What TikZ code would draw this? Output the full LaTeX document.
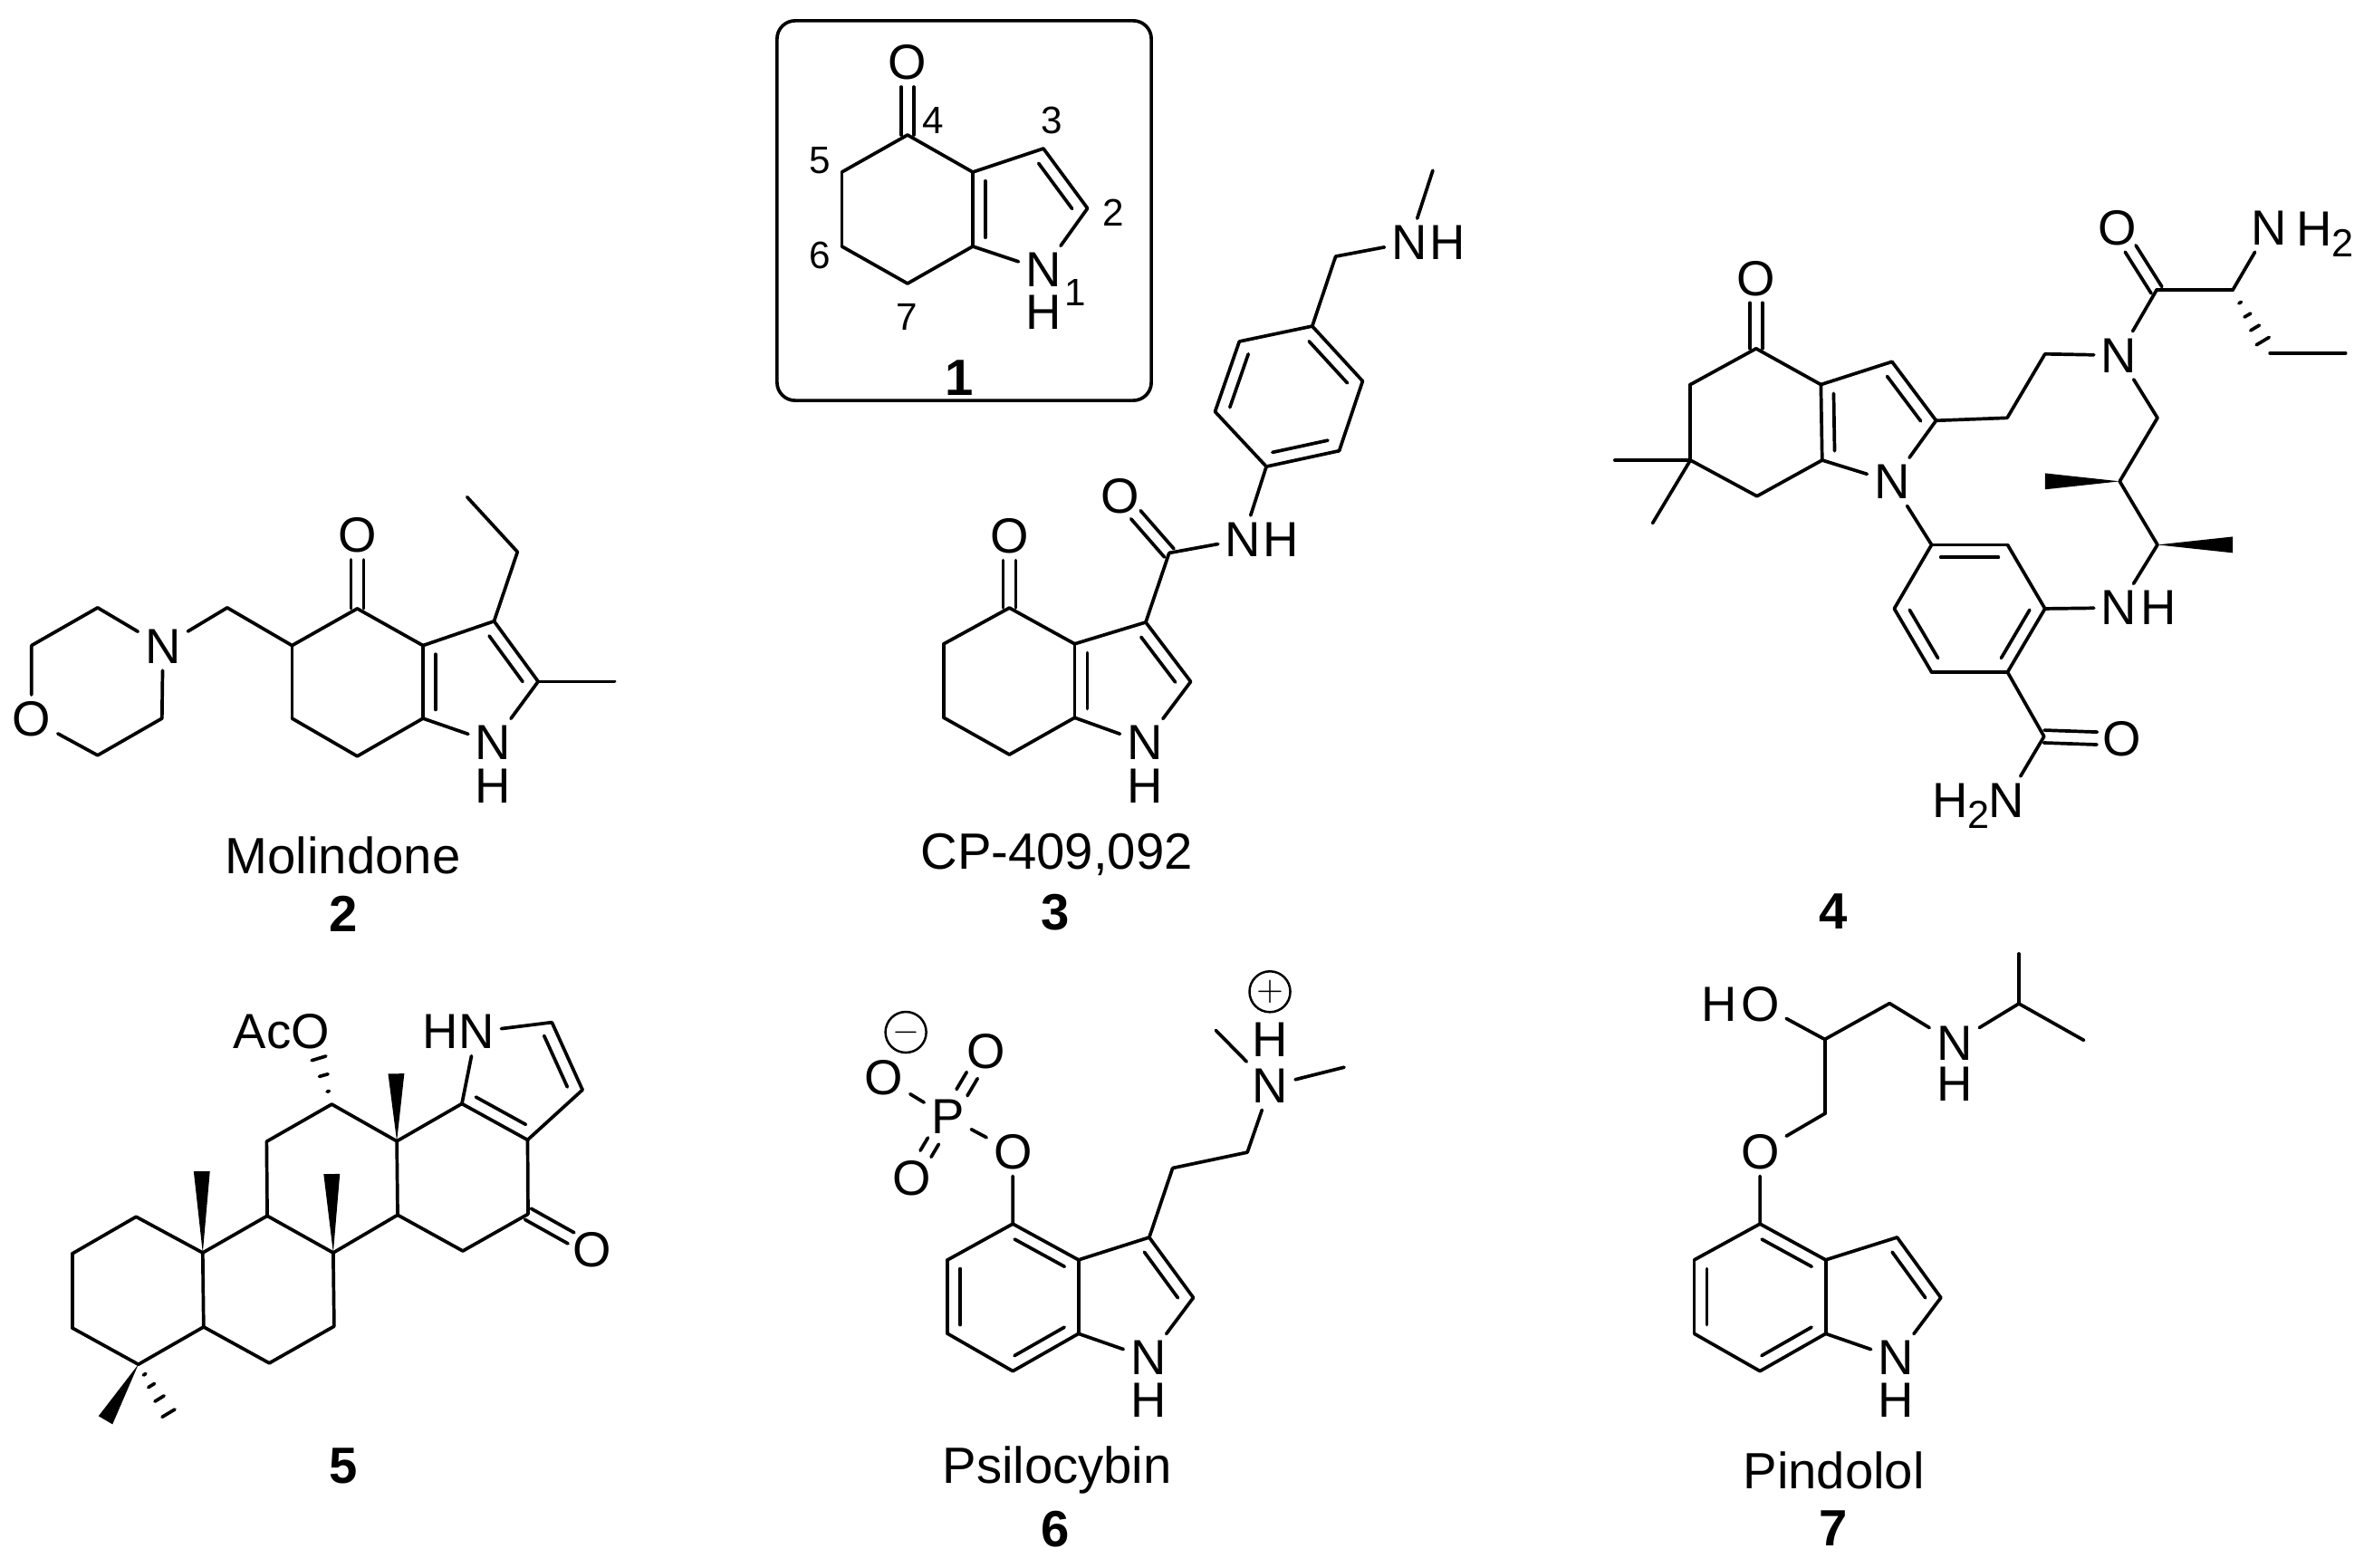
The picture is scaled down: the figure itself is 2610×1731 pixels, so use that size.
\documentclass[tikz,border=0pt]{standalone}
\usepackage{fontspec}
\setmainfont{Liberation Sans}
\usetikzlibrary{calc}
\newcommand{\innerbond}[3][.12]{\draw ($(#2)!#1!(#3)!.14cm!90:(#3)$) -- ($(#3)!#1!(#2)!.14cm!-90:(#2)$);}
\newcommand{\twinbond}[3][]{\draw[shorten >=.27cm,#1] ($(#2)!.07cm!90:(#3)$) -- ($(#3)!.07cm!-90:(#2)$);
\draw[shorten >=.27cm,#1] ($(#2)!.07cm!-90:(#3)$) -- ($(#3)!.07cm!90:(#2)$);}
\newcommand{\wedgebond}[2]{\fill (#1) -- ($(#2)!.09cm!90:(#1)$) -- ($(#2)!.09cm!-90:(#1)$) -- cycle;}
\newcommand{\hashbond}[3]{\foreach \t/\w in {#3} {\coordinate (hs) at ($(#1)!\t!(#2)$);
\draw ($(hs)!\w cm!90:(#2)$) -- ($(hs)!\w cm!-90:(#2)$);}}
\newcommand{\subtwo}{\raisebox{-3.5pt}{\fontsize{12.3}{13}\selectfont 2}}
\begin{document}
\begin{tikzpicture}[x=.01cm,y=-.01cm,line width=.037cm,line cap=round,line join=round,
atom node/.style={inner sep=.06cm,font=\fontsize{15.5}{17}\selectfont},
locant node/.style={inner sep=0pt,font=\fontsize{12}{14}\selectfont},
name node/.style={inner sep=0pt,font=\fontsize{16}{18}\selectfont},
num node/.style={inner sep=0pt,font=\fontsize{16}{18}\selectfont\bfseries},
charge node/.style={draw,circle,minimum size=.45cm,inner sep=0pt,line width=.025cm,font=\fontsize{11}{13}\selectfont}]
\useasboundingbox (0,0) rectangle (2610,1731);
% 1
\node[draw,rounded corners=.2cm,minimum width=4.13cm,minimum height=4.19cm,inner sep=0pt] (box1) at (1064.5,232.5) {};
\begin{scope}[shift={(5.4,0)},xscale=.9936]
\node[atom node] (m1o) at (1003,69) {O};
\node[atom node] (m1n) at (1154,298) {N};
\node[atom node] (m1h) at (1154,345) {H};
\coordinate (m1c4) at (1003,149);
\coordinate (m1c5) at (930,190);
\coordinate (m1c6) at (930,272);
\coordinate (m1c7) at (1003,313);
\coordinate (m1c7a) at (1075.5,272);
\coordinate (m1c3a) at (1075.5,190);
\coordinate (m1c3) at (1154,164);
\coordinate (m1c2) at (1203,230);
\node[locant node] (m1l4) at (1031,133) {4};
\node[locant node] (m1l3) at (1163,133) {3};
\node[locant node] (m1l5) at (906,177) {5};
\node[locant node] (m1l2) at (1232,235) {2};
\node[locant node] (m1l6) at (906,282) {6};
\node[locant node] (m1l7) at (1002,350) {7};
\node[locant node] (m1l1) at (1189,323) {1};
\node[num node] (m1num) at (1061,417) {1};
\twinbond{m1c4}{m1o}
\draw (m1c4) -- (m1c5);
\draw (m1c5) -- (m1c6);
\draw (m1c6) -- (m1c7);
\draw (m1c7) -- (m1c7a);
\draw (m1c7a) -- (m1c3a);
\draw (m1c3a) -- (m1c4);
\draw (m1c3a) -- (m1c3);
\draw (m1c3) -- (m1c2);
\draw (m1c2) -- (m1n);
\draw (m1n) -- (m1c7a);
\innerbond{m1c3a}{m1c7a}
\innerbond{m1c2}{m1c3}
\end{scope}
% 2
\begin{scope}[shift={(0,3.2)},scale=.9936]
\node[atom node] (m2o) at (397,591.5) {O};
\node[atom node] (m2n) at (548,822) {N};
\node[atom node] (m2h) at (548,870) {H};
\node[atom node] (m2mn) at (181,715) {N};
\node[atom node] (m2mo) at (35,796) {O};
\coordinate (m2c4) at (397,673);
\coordinate (m2c3a) at (470,714);
\coordinate (m2c7a) at (470,795);
\coordinate (m2c7) at (397,837);
\coordinate (m2c6) at (324.5,795);
\coordinate (m2c5) at (324.5,714);
\coordinate (m2ch) at (252.5,672);
\coordinate (m2m1) at (108.5,672);
\coordinate (m2m2) at (35,714);
\coordinate (m2m3) at (108.5,836);
\coordinate (m2m4) at (180,795);
\coordinate (m2c3) at (549,687);
\coordinate (m2c2) at (598,754);
\coordinate (m2me) at (683,754);
\coordinate (m2et1) at (575,610);
\coordinate (m2et2) at (519,549);
\node[name node] (m2name) at (381,947) {Molindone};
\node[num node] (m2num) at (382,1012) {2};
\twinbond{m2c4}{m2o}
\draw (m2c4) -- (m2c3a);
\draw (m2c3a) -- (m2c7a);
\draw (m2c7a) -- (m2c7);
\draw (m2c7) -- (m2c6);
\draw (m2c6) -- (m2c5);
\draw (m2c5) -- (m2c4);
\draw (m2c5) -- (m2ch);
\draw (m2ch) -- (m2mn);
\draw (m2mn) -- (m2m1);
\draw (m2m1) -- (m2m2);
\draw (m2m2) -- (m2mo);
\draw (m2mo) -- (m2m3);
\draw (m2m3) -- (m2m4);
\draw (m2m4) -- (m2mn);
\draw (m2c3a) -- (m2c3);
\draw (m2c3) -- (m2c2);
\draw (m2c2) -- (m2n);
\draw (m2n) -- (m2c7a);
\draw (m2c2) -- (m2me);
\draw (m2c3) -- (m2et1);
\draw (m2et1) -- (m2et2);
\innerbond{m2c3a}{m2c7a}
\innerbond{m2c2}{m2c3}
\end{scope}
% 3
\begin{scope}[shift={(6.1,1.4)},scale=.9936]
\node[atom node] (m3o) at (1115.5,594) {O};
\node[atom node] (m3n) at (1266,824) {N};
\node[atom node] (m3h) at (1266,872) {H};
\node[atom node] (m3ao) at (1238,550) {O};
\node[atom node] (m3an) at (1375,598) {N};
\node[atom node] (m3ah) at (1417,598) {H};
\node[atom node] (m3bn) at (1560,268) {N};
\node[atom node] (m3bh) at (1602,268) {H};
\coordinate (m3c4) at (1115.5,674);
\coordinate (m3c5) at (1042.6,714);
\coordinate (m3c6) at (1042.6,796);
\coordinate (m3c7) at (1115.5,837);
\coordinate (m3c7a) at (1188,796);
\coordinate (m3c3a) at (1188,714);
\coordinate (m3c3) at (1267,690);
\coordinate (m3c2) at (1317,756);
\coordinate (m3ac) at (1293,613);
\coordinate (m3r1) at (1401,517);
\coordinate (m3r2) at (1344,456);
\coordinate (m3r3) at (1371,378);
\coordinate (m3r4) at (1452,361);
\coordinate (m3r5) at (1508,422);
\coordinate (m3r6) at (1482,499.5);
\coordinate (m3ch) at (1478,283.5);
\coordinate (m3me) at (1586,188);
\node[name node] (m3name) at (1168,948) {CP-409,092};
\node[num node] (m3num) at (1166,1012) {3};
\twinbond{m3c4}{m3o}
\draw (m3c4) -- (m3c5);
\draw (m3c5) -- (m3c6);
\draw (m3c6) -- (m3c7);
\draw (m3c7) -- (m3c7a);
\draw (m3c7a) -- (m3c3a);
\draw (m3c3a) -- (m3c4);
\draw (m3c3a) -- (m3c3);
\draw (m3c3) -- (m3c2);
\draw (m3c2) -- (m3n);
\draw (m3n) -- (m3c7a);
\draw (m3c3) -- (m3ac);
\twinbond{m3ac}{m3ao}
\draw (m3ac) -- (m3an);
\draw (m3an) -- (m3r1);
\draw (m3r1) -- (m3r2);
\draw (m3r2) -- (m3r3);
\draw (m3r3) -- (m3r4);
\draw (m3r4) -- (m3r5);
\draw (m3r5) -- (m3r6);
\draw (m3r6) -- (m3r1);
\draw (m3r4) -- (m3ch);
\draw (m3ch) -- (m3bn);
\draw (m3bn) -- (m3me);
\innerbond{m3c3a}{m3c7a}
\innerbond{m3c2}{m3c3}
\innerbond{m3r3}{m3r2}
\innerbond{m3r1}{m3r6}
\innerbond{m3r5}{m3r4}
\end{scope}
% 4
\begin{scope}[shift={(11.3,1.3)},scale=.9936]
\node[atom node] (m4o) at (1940,308) {O};
\node[atom node] (m4n) at (2091,534) {N};
\node[atom node] (m4ln) at (2343,393.5) {N};
\node[atom node] (m4ao) at (2341.5,252) {O};
\node[atom node] (m4an) at (2510,252) {N};
\node[atom node,inner sep=0pt,anchor=base west] (m4ah) at (2538.3,272) {H\subtwo};
\node[atom node] (m4bn) at (2343,674) {N};
\node[atom node] (m4bh) at (2387.5,674) {H};
\node[atom node] (m4co) at (2346,820) {O};
\node[atom node] (m4cn) at (2218,888) {N};
\node[atom node,inner sep=0pt,anchor=base west] (m4ch) at (2134,907) {H\subtwo};
\coordinate (m4c4) at (1940,386);
\coordinate (m4c5) at (1867,426);
\coordinate (m4c6) at (1867,510);
\coordinate (m4c7) at (1941,550);
\coordinate (m4c7a) at (2013.4,510);
\coordinate (m4c3a) at (2012,426);
\coordinate (m4c3) at (2091,400.6);
\coordinate (m4c2) at (2140,466);
\coordinate (m4me1) at (1783,510);
\coordinate (m4me2) at (1825,580);
\coordinate (m4e1) at (2219,463);
\coordinate (m4e2) at (2261,392);
\coordinate (m4ac) at (2385,321);
\coordinate (m4ch1) at (2469.6,321);
\coordinate (m4et1) at (2511,391);
\coordinate (m4et2) at (2595,391);
\coordinate (m4l1) at (2386,463);
\coordinate (m4l2) at (2344,533.5);
\coordinate (m4l3) at (2261,533.5);
\coordinate (m4l4) at (2386,604);
\coordinate (m4l5) at (2469.6,604);
\coordinate (m4r1) at (2135,604);
\coordinate (m4r2) at (2219.4,604);
\coordinate (m4r3) at (2261,675);
\coordinate (m4r4) at (2219.4,745.5);
\coordinate (m4r5) at (2135,745.5);
\coordinate (m4r6) at (2093.5,675);
\coordinate (m4cc) at (2260,817);
\node[num node] (m4num) at (2026,1011) {4};
\twinbond{m4c4}{m4o}
\draw (m4c4) -- (m4c5);
\draw (m4c5) -- (m4c6);
\draw (m4c6) -- (m4c7);
\draw (m4c7) -- (m4c7a);
\draw (m4c7a) -- (m4c3a);
\draw (m4c3a) -- (m4c4);
\draw (m4c3a) -- (m4c3);
\draw (m4c3) -- (m4c2);
\draw (m4c2) -- (m4n);
\draw (m4n) -- (m4c7a);
\draw (m4c6) -- (m4me1);
\draw (m4c6) -- (m4me2);
\draw (m4c2) -- (m4e1);
\draw (m4e1) -- (m4e2);
\draw (m4e2) -- (m4ln);
\draw (m4ln) -- (m4ac);
\twinbond{m4ac}{m4ao}
\draw (m4ac) -- (m4ch1);
\draw (m4ch1) -- (m4an);
\hashbond{m4ch1}{m4et1}{.2/.015,.4/.04,.6/.057,.81/.082}
\draw (m4et1) -- (m4et2);
\draw (m4ln) -- (m4l1);
\draw (m4l1) -- (m4l2);
\draw (m4l2) -- (m4l4);
\wedgebond{m4l2}{m4l3}
\wedgebond{m4l4}{m4l5}
\draw (m4l4) -- (m4bn);
\draw (m4bn) -- (m4r3);
\draw (m4n) -- (m4r1);
\draw (m4r1) -- (m4r2);
\draw (m4r2) -- (m4r3);
\draw (m4r3) -- (m4r4);
\draw (m4r4) -- (m4r5);
\draw (m4r5) -- (m4r6);
\draw (m4r6) -- (m4r1);
\draw (m4r4) -- (m4cc);
\twinbond{m4cc}{m4co}
\draw (m4cc) -- (m4cn);
\innerbond{m4c3a}{m4c7a}
\innerbond{m4c2}{m4c3}
\innerbond{m4r2}{m4r1}
\innerbond{m4r6}{m4r5}
\innerbond{m4r4}{m4r3}
\end{scope}
% 5
\begin{scope}[shift={(.26,6.9)},scale=.9936]
\node[atom node] (m5o) at (345,1139.5) {O};
\node[atom node,inner sep=0pt,anchor=east] (m5ac) at (325,1139.5) {Ac};
\node[atom node] (m5n) at (529,1139.5) {N};
\node[atom node] (m5h) at (489,1139.5) {H};
\node[atom node] (m5ko) at (658,1382) {O};
\coordinate (m5a) at (151,1345);
\coordinate (m5b) at (80,1386);
\coordinate (m5c) at (80,1468.5);
\coordinate (m5d) at (153.5,1509);
\coordinate (m5e) at (226,1467.4);
\coordinate (m5f) at (225,1385);
\coordinate (m5g) at (296.7,1344);
\coordinate (m5i) at (370,1385);
\coordinate (m5j) at (371,1466.7);
\coordinate (m5k) at (299,1507.6);
\coordinate (m5l) at (296,1261.4);
\coordinate (m5m) at (368.4,1220);
\coordinate (m5p) at (440.7,1261);
\coordinate (m5q) at (441.6,1343);
\coordinate (m5r) at (514,1383);
\coordinate (m5s) at (586.5,1342);
\coordinate (m5t) at (586,1259.6);
\coordinate (m5u) at (513,1219.4);
\coordinate (m5v) at (647,1204);
\coordinate (m5w) at (613,1129);
\coordinate (m5w1) at (224,1294.5);
\coordinate (m5w2) at (368.4,1297.5);
\coordinate (m5w3) at (440,1186);
\coordinate (m5w4) at (117,1571);
\coordinate (m5h1) at (188,1565);
\coordinate (m5h2) at (354,1169);
\node[num node] (m5num) at (381,1622) {5};
\draw (m5a) -- (m5b);
\draw (m5b) -- (m5c);
\draw (m5c) -- (m5d);
\draw (m5d) -- (m5e);
\draw (m5e) -- (m5f);
\draw (m5f) -- (m5a);
\draw (m5f) -- (m5g);
\draw (m5g) -- (m5i);
\draw (m5i) -- (m5j);
\draw (m5j) -- (m5k);
\draw (m5k) -- (m5e);
\draw (m5g) -- (m5l);
\draw (m5l) -- (m5m);
\draw (m5m) -- (m5p);
\draw (m5p) -- (m5q);
\draw (m5q) -- (m5i);
\draw (m5q) -- (m5r);
\draw (m5r) -- (m5s);
\draw (m5s) -- (m5t);
\draw (m5t) -- (m5u);
\draw (m5u) -- (m5p);
\draw (m5u) -- (m5n);
\draw (m5n) -- (m5w);
\draw (m5w) -- (m5v);
\draw (m5v) -- (m5t);
\twinbond{m5s}{m5ko}
\wedgebond{m5f}{m5w1}
\wedgebond{m5i}{m5w2}
\wedgebond{m5p}{m5w3}
\wedgebond{m5d}{m5w4}
\hashbond{m5d}{m5h1}{.2/.015,.42/.04,.68/.06,.97/.082}
\hashbond{m5m}{m5h2}{.28/.012,.63/.05,1/.082}
\innerbond{m5u}{m5t}
\innerbond{m5v}{m5w}
\end{scope}
% 6
\begin{scope}[shift={(6,6.8)},scale=.9936]
\node[atom node] (m6n) at (1270,1502) {N};
\node[atom node] (m6h) at (1270,1549) {H};
\node[atom node] (m6an) at (1405.6,1199.6) {N};
\node[atom node] (m6ah) at (1405.6,1148) {H};
\node[atom node] (m6o) at (1119.4,1272.6) {O};
\node[atom node] (m6p) at (1047,1234) {P};
\node[atom node] (m6o1) at (1090,1161) {O};
\node[atom node] (m6o2) at (1006.7,1302) {O};
\node[atom node] (m6o3) at (976,1191) {O};
\node[charge node] (m6plus) at (1405,1095) {$+$};
\node[charge node] (m6minus) at (1000.5,1140) {$-$};
\coordinate (m6a) at (1119.4,1353);
\coordinate (m6b) at (1192.4,1393);
\coordinate (m6c) at (1192.4,1475);
\coordinate (m6d) at (1119.4,1516.6);
\coordinate (m6e) at (1047,1475);
\coordinate (m6f) at (1047,1393);
\coordinate (m6c3) at (1271,1368);
\coordinate (m6c2) at (1320,1435);
\coordinate (m6e1) at (1297,1291);
\coordinate (m6e2) at (1380,1273.5);
\coordinate (m6me1) at (1345,1138);
\coordinate (m6me2) at (1487.6,1179);
\node[name node] (m6name) at (1168.6,1627) {Psilocybin};
\node[num node] (m6num) at (1166.6,1692) {6};
\draw (m6a) -- (m6b);
\draw (m6b) -- (m6c);
\draw (m6c) -- (m6d);
\draw (m6d) -- (m6e);
\draw (m6e) -- (m6f);
\draw (m6f) -- (m6a);
\draw (m6b) -- (m6c3);
\draw (m6c3) -- (m6c2);
\draw (m6c2) -- (m6n);
\draw (m6n) -- (m6c);
\draw (m6c3) -- (m6e1);
\draw (m6e1) -- (m6e2);
\draw (m6e2) -- (m6an);
\draw (m6me1) -- (m6an);
\draw (m6an) -- (m6me2);
\draw (m6a) -- (m6o);
\draw (m6o) -- (m6p);
\draw (m6p) -- (m6o3);
\twinbond[shorten <=.31cm,shorten >=.31cm]{m6p}{m6o1}
\twinbond[shorten <=.31cm,shorten >=.31cm]{m6p}{m6o2}
\innerbond{m6b}{m6a}
\innerbond{m6f}{m6e}
\innerbond{m6d}{m6c}
\innerbond{m6c2}{m6c3}
\end{scope}
% 7
\begin{scope}[shift={(11.6,6.8)},scale=.9936]
\node[atom node] (m7n) at (2095,1502) {N};
\node[atom node] (m7h) at (2095,1549) {H};
\node[atom node] (m7o) at (1944,1272.6) {O};
\node[atom node] (m7ho) at (1944,1109) {O};
\node[atom node] (m7hh) at (1899,1109) {H};
\node[atom node] (m7an) at (2160,1152) {N};
\node[atom node] (m7ah) at (2160,1198) {H};
\coordinate (m7a) at (1944,1353);
\coordinate (m7b) at (2017,1393);
\coordinate (m7c) at (2017,1475);
\coordinate (m7d) at (1944,1516.6);
\coordinate (m7e) at (1871,1475);
\coordinate (m7f) at (1871,1393);
\coordinate (m7c3) at (2096.4,1368);
\coordinate (m7c2) at (2145,1435);
\coordinate (m7s1) at (2016,1230.5);
\coordinate (m7s2) at (2016,1148);
\coordinate (m7s3) at (2088,1108);
\coordinate (m7s4) at (2231.7,1108.3);
\coordinate (m7me1) at (2231.7,1052.9);
\coordinate (m7me2) at (2303.9,1149);
\node[name node] (m7name) at (2026,1627) {Pindolol};
\node[num node] (m7num) at (2025,1691) {7};
\draw (m7a) -- (m7b);
\draw (m7b) -- (m7c);
\draw (m7c) -- (m7d);
\draw (m7d) -- (m7e);
\draw (m7e) -- (m7f);
\draw (m7f) -- (m7a);
\draw (m7b) -- (m7c3);
\draw (m7c3) -- (m7c2);
\draw (m7c2) -- (m7n);
\draw (m7n) -- (m7c);
\draw (m7a) -- (m7o);
\draw (m7o) -- (m7s1);
\draw (m7s1) -- (m7s2);
\draw (m7s2) -- (m7ho);
\draw (m7s2) -- (m7s3);
\draw (m7s3) -- (m7an);
\draw (m7an) -- (m7s4);
\draw (m7s4) -- (m7me1);
\draw (m7s4) -- (m7me2);
\innerbond{m7b}{m7a}
\innerbond{m7f}{m7e}
\innerbond{m7d}{m7c}
\innerbond{m7c2}{m7c3}
\end{scope}
\end{tikzpicture}
\end{document}
